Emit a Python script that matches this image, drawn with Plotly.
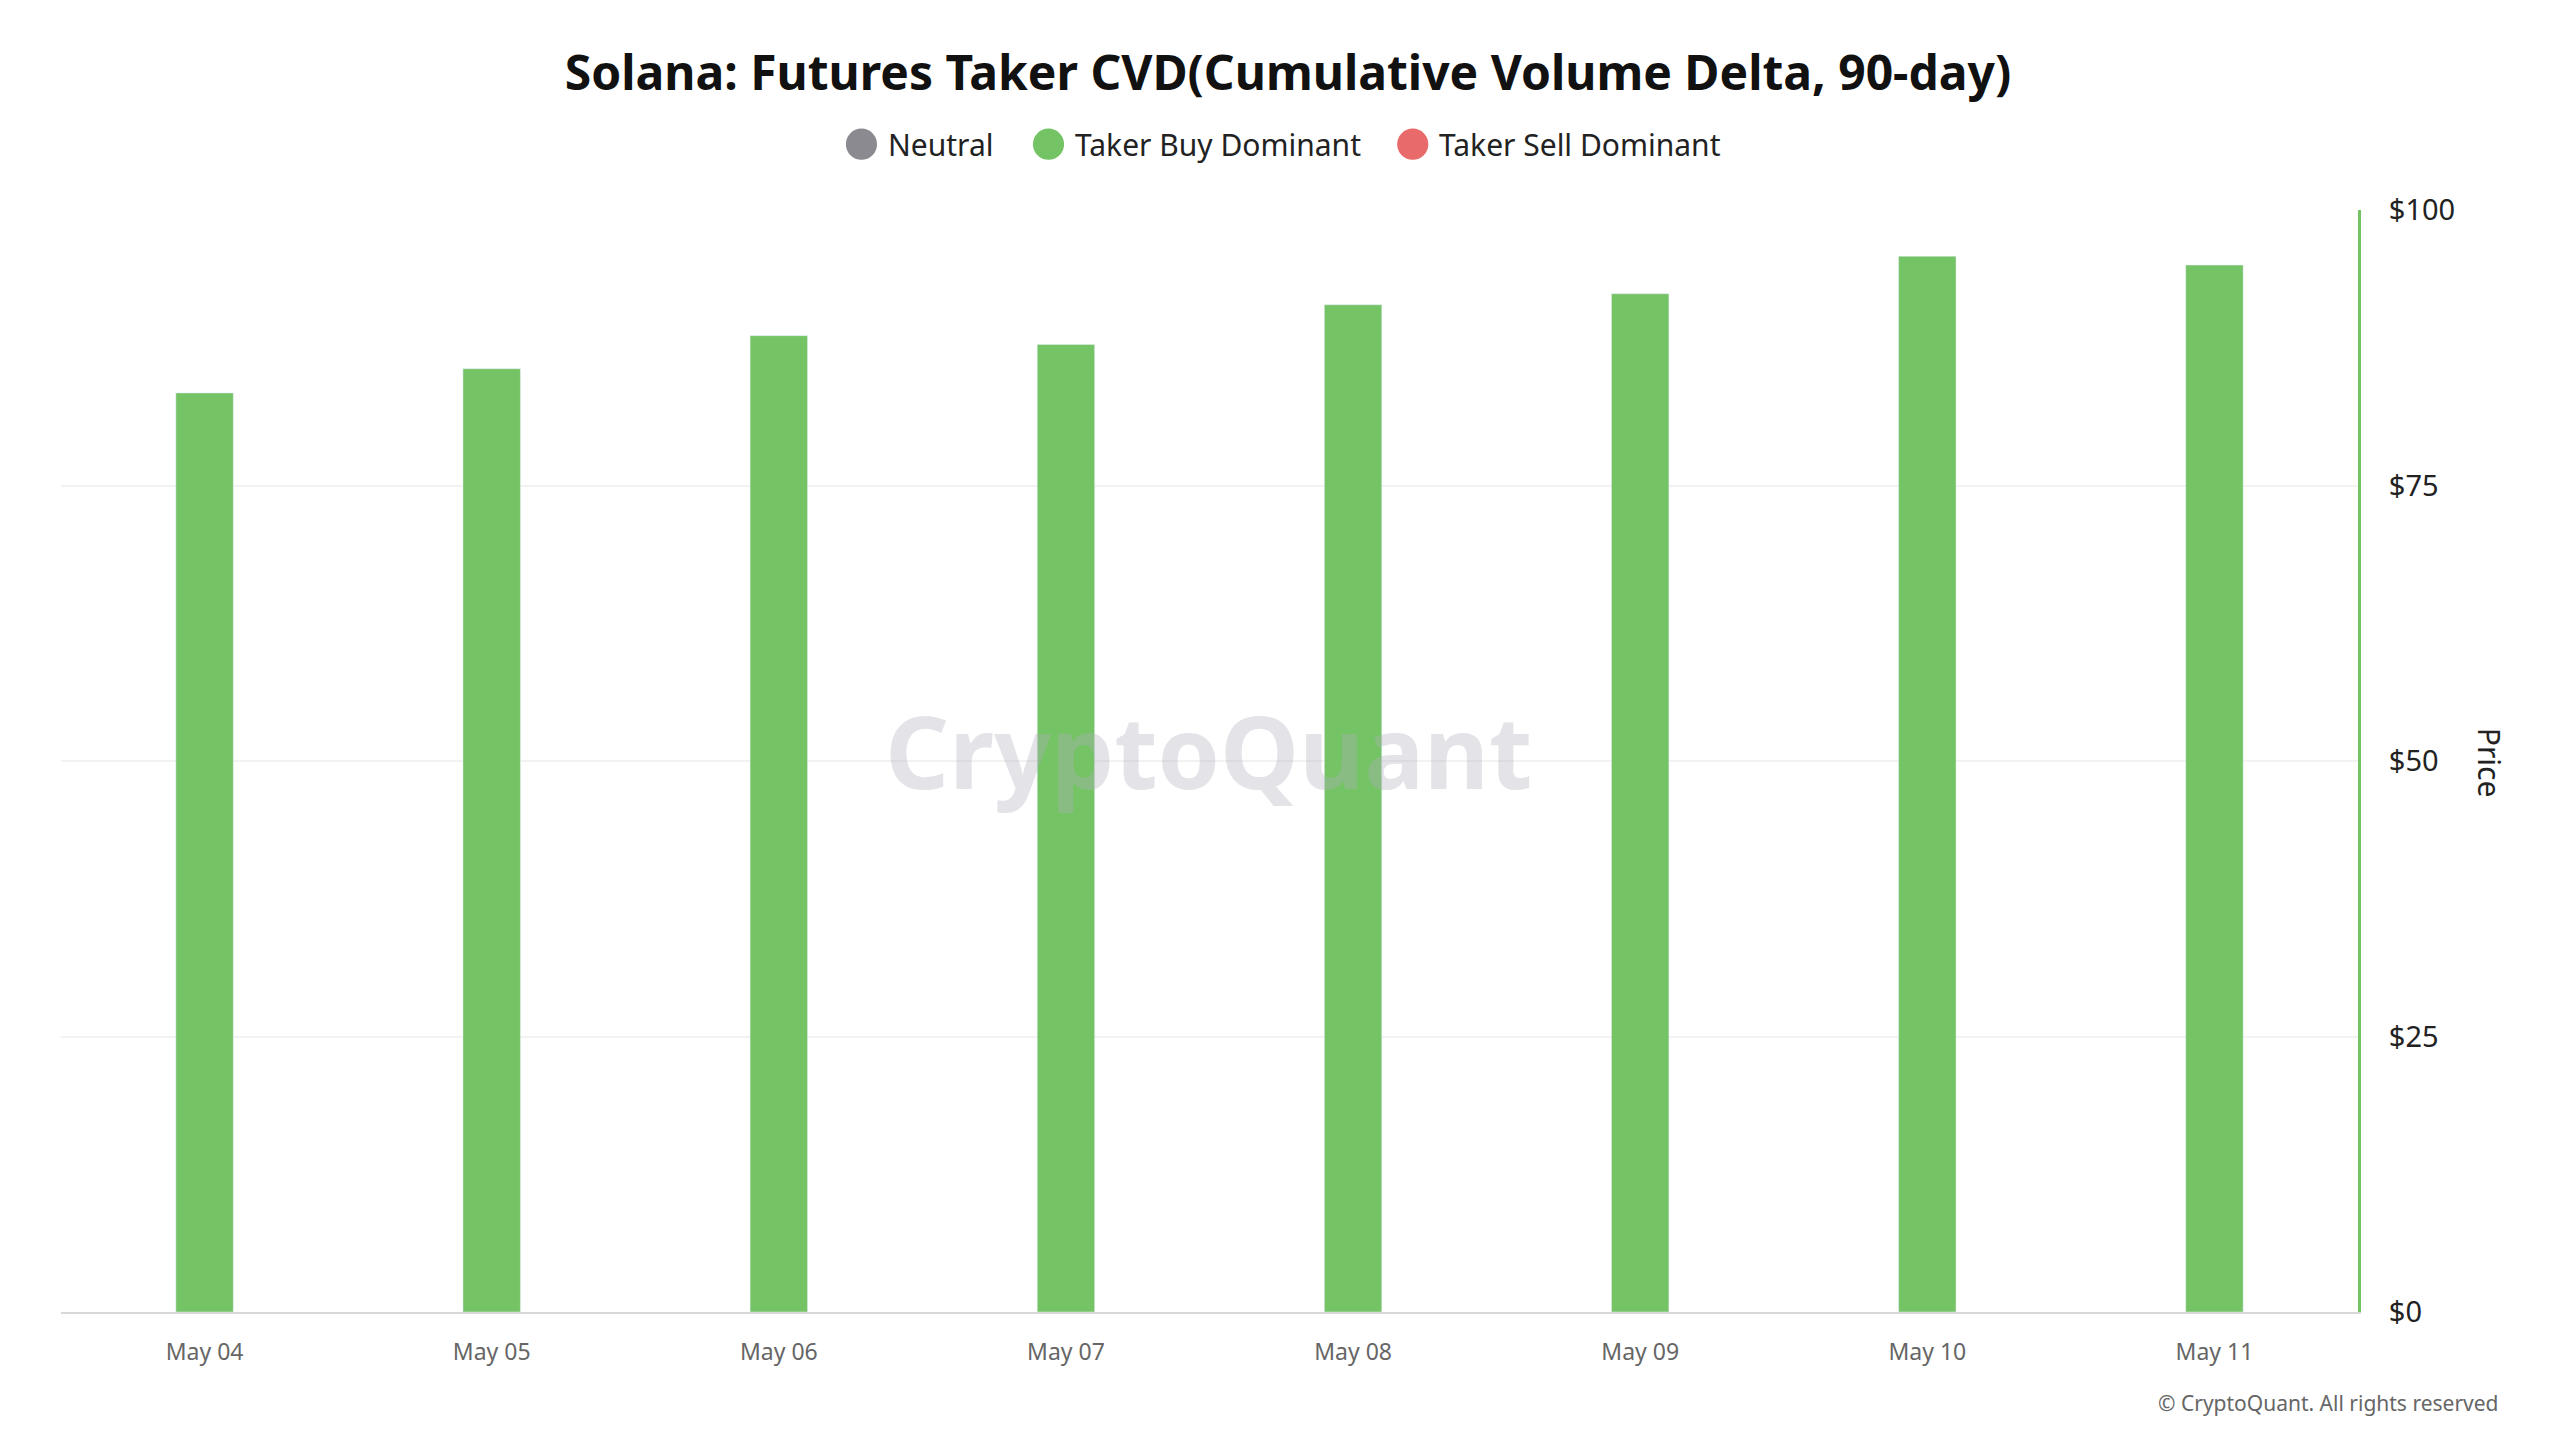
import plotly.graph_objects as go

dates = ["May 04", "May 05", "May 06", "May 07", "May 08", "May 09", "May 10", "May 11"]
prices = [83.4, 85.6, 88.6, 87.8, 91.4, 92.4, 95.8, 95.0]
tick_vals = [0, 25, 50, 75, 100]
tick_text = ["$0", "$25", "$50", "$75", "$100"]
legend_names = ["Neutral", "Taker Buy Dominant", "Taker Sell Dominant"]
legend_colors = ["#8a8a90", "#74c365", "#e86a6a"]

GREEN = "#74c365"
S = 2560 / 1560
L, R, T, B = 37 * S - 8, 1437 * S - 8, 128 * S - 8, 802 * S - 12
PW, PH = R - L, B - T
def px(x): return (x * S - L) / PW
def py(y): return 1 - (y * S - T) / PH

fig = go.Figure()
fig.add_bar(x=dates, y=prices, marker_color=GREEN, width=0.2, showlegend=False)

shapes, anns = [], []
leg_x = [520, 634, 856]
for lx, name, col in zip(leg_x, legend_names, legend_colors):
    r = 9.5
    shapes.append(dict(type="circle", xref="paper", yref="paper", x0=px(lx - r), x1=px(lx + r),
                       y0=py(83 + r), y1=py(83 - r), fillcolor=col, line_width=0))
    anns.append(dict(text=name, xref="paper", yref="paper", x=px(lx + 15), y=py(83),
                     xanchor="left", yanchor="middle", showarrow=False,
                     font=dict(size=30, color="#222")))

anns += [
    dict(text="Price", textangle=90, xref="paper", yref="paper", x=px(1512), y=py(460),
         showarrow=False, font=dict(size=30, color="#222"), xanchor="center"),
    dict(text="<b>CryptoQuant</b>", xref="paper", yref="paper", x=px(732), y=py(452), showarrow=False,
         font=dict(size=100, color="rgba(175,175,190,0.35)")),
    dict(text="© CryptoQuant. All rights reserved", xref="paper", yref="paper",
         x=px(1519), y=py(850), xanchor="right", yanchor="middle", showarrow=False,
         font=dict(size=21, color="#666")),
]

fig.update_layout(
    width=2560, height=1440, paper_bgcolor="white", plot_bgcolor="white",
    font=dict(family="Noto Sans", color="#222"), showlegend=False,
    margin=dict(l=L, r=2560 - R, t=T, b=1440 - B),
    title=dict(text="<b>Solana: Futures Taker CVD(Cumulative Volume Delta, 90-day)</b>",
               x=0.5, xanchor="center", y=1 - 40 * S / 1440, yanchor="middle",
               font=dict(size=48, color="#111")),
    xaxis=dict(type="category", range=[-0.5, 7.5], showgrid=False, showline=True,
               linecolor="#d8d8d8", linewidth=2, ticks="", tickfont=dict(size=23, color="#666"),
               ticklabelstandoff=18),
    yaxis=dict(side="right", range=[0, 100], tickvals=tick_vals, ticktext=tick_text,
               showgrid=True, gridcolor="#f2f2f2", gridwidth=2, zeroline=False,
               showline=True, linecolor=GREEN, linewidth=3,
               tickfont=dict(size=29, color="#222"), ticks="", ticklabelstandoff=22),
    shapes=shapes, annotations=anns,
)
fig.write_html("out.html")
